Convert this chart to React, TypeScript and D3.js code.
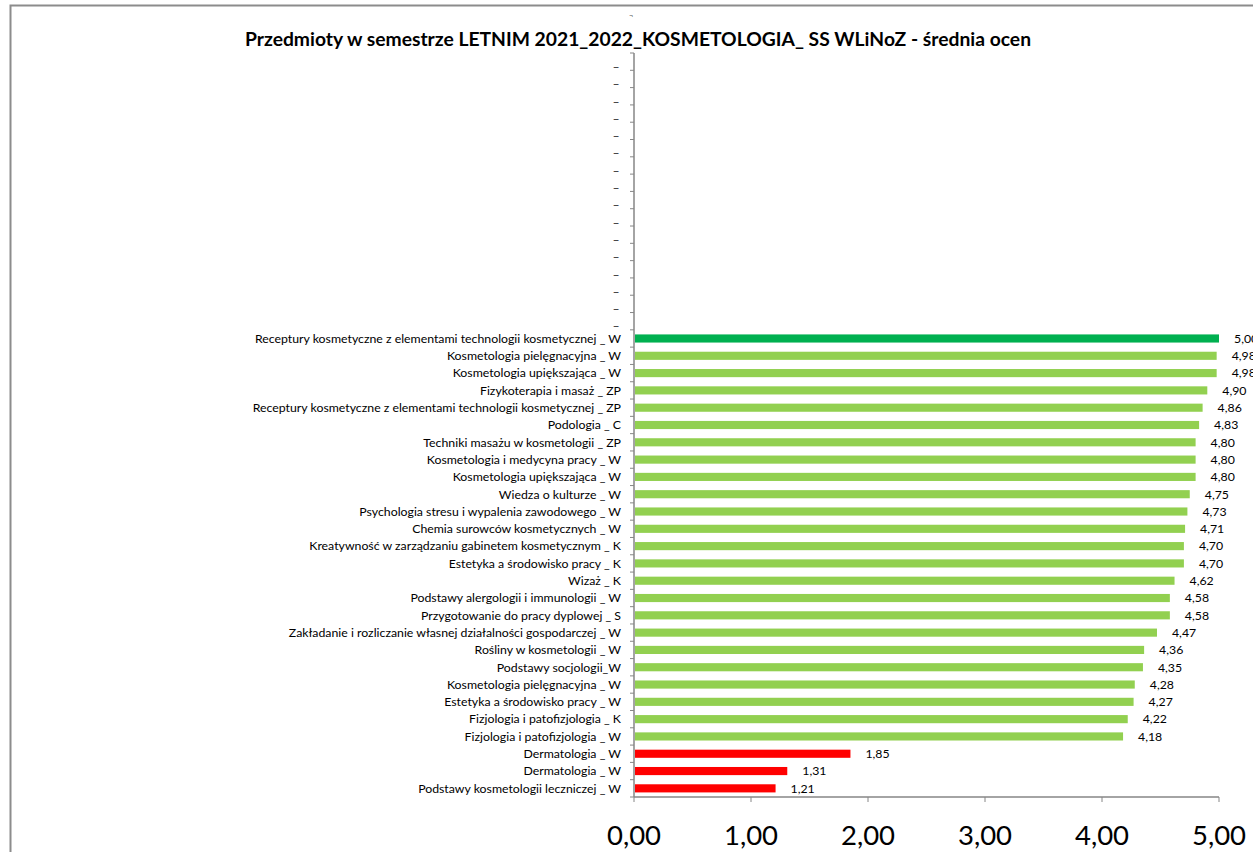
import React, { useEffect, useRef } from 'react';
import * as d3 from 'd3';

const title = 'Przedmioty w semestrze LETNIM 2021_2022_KOSMETOLOGIA_ SS WLiNoZ - średnia ocen';

// przedmioty od góry do dołu
const subjects = [
  'Receptury kosmetyczne z elementami technologii kosmetycznej _ W',
  'Kosmetologia pielęgnacyjna _ W',
  'Kosmetologia upiększająca _ W',
  'Fizykoterapia i masaż _ ZP',
  'Receptury kosmetyczne z elementami technologii kosmetycznej _ ZP',
  'Podologia _ C',
  'Techniki masażu w kosmetologii _ ZP',
  'Kosmetologia i medycyna pracy _ W',
  'Kosmetologia upiększająca _ W',
  'Wiedza o kulturze _ W',
  'Psychologia stresu i wypalenia zawodowego _ W',
  'Chemia surowców kosmetycznych _ W',
  'Kreatywność w zarządzaniu gabinetem kosmetycznym _ K',
  'Estetyka a środowisko pracy _ K',
  'Wizaż _ K',
  'Podstawy alergologii i immunologii _ W',
  'Przygotowanie do pracy dyplowej _ S',
  'Zakładanie i rozliczanie własnej działalności gospodarczej _ W',
  'Rośliny w kosmetologii _ W',
  'Podstawy socjologii_W',
  'Kosmetologia pielęgnacyjna _ W',
  'Estetyka a środowisko pracy _ W',
  'Fizjologia i patofizjologia _ K',
  'Fizjologia i patofizjologia _ W',
  'Dermatologia _ W',
  'Dermatologia _ W',
  'Podstawy kosmetologii leczniczej _ W',
];

const averages = [
  5.0, 4.98, 4.98, 4.9, 4.86, 4.83, 4.8, 4.8, 4.8, 4.75, 4.73, 4.71, 4.7, 4.7,
  4.62, 4.58, 4.58, 4.47, 4.36, 4.35, 4.28, 4.27, 4.22, 4.18, 1.85, 1.31, 1.21,
];

// puste kategorie nad wykresem
const emptyRows = 16;

const xTicks = [0, 1, 2, 3, 4, 5];

const W = 1253;
const H = 852;

const App: React.FC = () => {
  const svgRef = useRef<SVGSVGElement>(null);

  useEffect(() => {
    const svg = d3.select(svgRef.current);
    svg.selectAll('*').remove();

    const font = 'Lato, sans-serif';
    const margin = { top: 53, left: 634, right: 34, bottom: 55 };
    const innerWidth = W - margin.left - margin.right;
    const innerHeight = H - margin.top - margin.bottom;

    // ramka wykresu
    svg.append('rect')
      .attr('x', 10.5)
      .attr('y', 5.5)
      .attr('width', W + 20)
      .attr('height', H + 20)
      .attr('fill', 'white')
      .attr('stroke', '#8c8c8c')
      .attr('stroke-width', 2);

    svg.append('text')
      .attr('x', 638)
      .attr('y', 46)
      .attr('text-anchor', 'middle')
      .attr('font-family', font)
      .attr('font-weight', 'bold')
      .attr('font-size', 19.3)
      .attr('fill', '#000')
      .text(title);

    // drobny znak nad osią
    svg.append('text')
      .attr('x', 631)
      .attr('y', 18)
      .attr('text-anchor', 'middle')
      .attr('font-family', font)
      .attr('font-size', 7)
      .attr('fill', '#555')
      .text('¬');

    const rows = [
      ...d3.range(emptyRows).map(i => ({ key: `e${i}`, label: '_', value: null as number | null, i: -1 })),
      ...subjects.map((s, i) => ({ key: `s${i}`, label: s, value: averages[i], i })),
    ];

    const x = d3.scaleLinear().domain([0, 5]).range([0, innerWidth]);
    const y = d3.scaleBand()
      .domain(rows.map(d => d.key))
      .range([0, innerHeight])
      .paddingInner(0.53)
      .paddingOuter(0.265);

    const g = svg.append('g')
      .attr('transform', `translate(${margin.left},${margin.top})`);

    const step = y.step();

    // lewa oś
    const yAxis = g.append('g');
    yAxis.append('line')
      .attr('x1', 0).attr('x2', 0)
      .attr('y1', 0).attr('y2', innerHeight)
      .attr('stroke', '#868686')
      .attr('stroke-width', 1.5);
    yAxis.selectAll('line.tick')
      .data(d3.range(rows.length + 1))
      .join('line')
      .attr('class', 'tick')
      .attr('x1', -4).attr('x2', 0)
      .attr('y1', i => i * step)
      .attr('y2', i => i * step)
      .attr('stroke', '#868686')
      .attr('stroke-width', 1);

    g.selectAll('text.cat')
      .data(rows)
      .join('text')
      .attr('class', 'cat')
      .attr('x', d => (d.value === null ? -15 : -13))
      .attr('y', d => y(d.key)! + y.bandwidth() / 2)
      .attr('dy', '0.35em')
      .attr('text-anchor', 'end')
      .attr('font-family', font)
      .attr('font-size', 12.3)
      .attr('fill', '#000')
      .text(d => d.label);

    const colorOf = (i: number) => (i === 0 ? '#00b050' : averages[i] < 3 ? '#ff0000' : '#92d050');

    const bars = rows.filter(d => d.value !== null);

    g.selectAll('rect.bar')
      .data(bars)
      .join('rect')
      .attr('class', 'bar')
      .attr('x', 1)
      .attr('y', d => y(d.key)!)
      .attr('width', d => x(d.value!) - 1)
      .attr('height', y.bandwidth())
      .attr('fill', d => colorOf(d.i));

    g.selectAll('text.val')
      .data(bars)
      .join('text')
      .attr('class', 'val')
      .attr('x', d => x(d.value!) + 15)
      .attr('y', d => y(d.key)! + y.bandwidth() / 2)
      .attr('dy', '0.35em')
      .attr('font-family', font)
      .attr('font-size', 12.3)
      .attr('fill', '#000')
      .text(d => d3.format('.2f')(d.value!).replace('.', ','));

    // dolna oś
    const xAxis = g.append('g').attr('transform', `translate(0,${innerHeight})`);
    xAxis.append('line')
      .attr('x1', 0).attr('x2', innerWidth)
      .attr('stroke', '#868686')
      .attr('stroke-width', 1.5);
    xAxis.selectAll('line.tick')
      .data(xTicks)
      .join('line')
      .attr('class', 'tick')
      .attr('x1', d => x(d)).attr('x2', d => x(d))
      .attr('y1', 0).attr('y2', 5)
      .attr('stroke', '#868686')
      .attr('stroke-width', 1);
    xAxis.selectAll('text')
      .data(xTicks)
      .join('text')
      .attr('x', d => x(d))
      .attr('y', 48)
      .attr('text-anchor', 'middle')
      .attr('font-family', font)
      .attr('font-size', 27.5)
      .attr('fill', '#000')
      .text(d => d3.format('.2f')(d).replace('.', ','));
  }, []);

  return (
    <svg
      ref={svgRef}
      width={W}
      height={H}
      style={{ position: 'absolute', left: 0, top: 0, background: 'white' }}
    />
  );
};

export default App;
